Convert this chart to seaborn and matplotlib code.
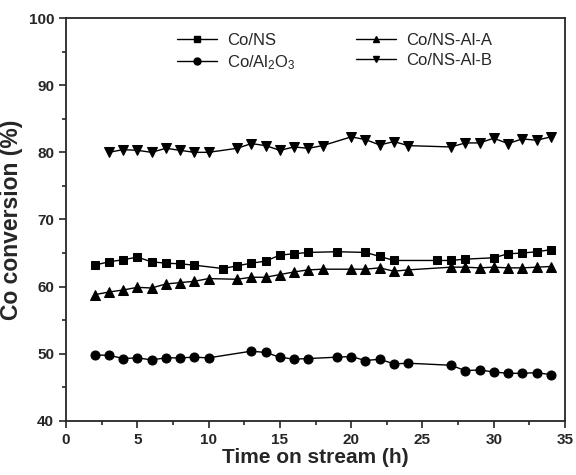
import numpy as np
import pandas as pd
import seaborn as sns
import matplotlib.pyplot as plt

# Co/NS
t_ns = [2, 3, 4, 5, 6, 7, 8, 9, 11, 12, 13, 14, 15, 16, 17, 19, 21, 22, 23, 26, 27, 28, 30, 31, 32, 33, 34]
conv_ns = [63.2, 63.7, 64.0, 64.4, 63.7, 63.5, 63.4, 63.2, 62.7, 63.1, 63.5, 63.8, 64.7, 64.9, 65.1, 65.2, 65.1,
           64.5, 63.9, 63.9, 63.9, 64.1, 64.3, 64.9, 65.0, 65.2, 65.5]

# Co/Al2O3
t_al = [2, 3, 4, 5, 6, 7, 8, 9, 10, 13, 14, 15, 16, 17, 19, 20, 21, 22, 23, 24, 27, 28, 29, 30, 31, 32, 33, 34]
conv_al = [49.8, 49.8, 49.3, 49.4, 49.1, 49.4, 49.4, 49.5, 49.4, 50.4, 50.2, 49.5, 49.2, 49.3, 49.5, 49.6, 49.0,
           49.2, 48.5, 48.6, 48.3, 47.5, 47.6, 47.3, 47.1, 47.1, 47.2, 46.9]

# Co/NS-Al-A
t_a = [2, 3, 4, 5, 6, 7, 8, 9, 10, 12, 13, 14, 15, 16, 17, 18, 20, 21, 22, 23, 24, 27, 28, 29, 30, 31, 32, 33, 34]
conv_a = [58.8, 59.2, 59.5, 59.9, 59.8, 60.4, 60.6, 60.8, 61.2, 61.1, 61.4, 61.4, 61.8, 62.2, 62.5, 62.6, 62.6,
          62.6, 62.8, 62.3, 62.5, 62.9, 62.9, 62.8, 62.9, 62.8, 62.8, 62.9, 63.0]

# Co/NS-Al-B
t_b = [3, 4, 5, 6, 7, 8, 9, 10, 12, 13, 14, 15, 16, 17, 18, 20, 21, 22, 23, 24, 27, 28, 29, 30, 31, 32, 33, 34]
conv_b = [80.0, 80.4, 80.3, 80.0, 80.6, 80.3, 80.0, 80.0, 80.6, 81.3, 81.0, 80.3, 80.8, 80.6, 81.0, 82.3, 81.9,
          81.1, 81.6, 81.0, 80.8, 81.4, 81.4, 82.1, 81.3, 82.0, 81.8, 82.3]

# legend order (column-wise): Co/NS, Co/Al2O3 | Co/NS-Al-A, Co/NS-Al-B
labels = ["Co/NS", "Co/Al$_2$O$_3$", "Co/NS-Al-A", "Co/NS-Al-B"]

df = pd.concat([
    pd.DataFrame({"t": t_ns, "conv": conv_ns, "sample": labels[0]}),
    pd.DataFrame({"t": t_al, "conv": conv_al, "sample": labels[1]}),
    pd.DataFrame({"t": t_a, "conv": conv_a, "sample": labels[2]}),
    pd.DataFrame({"t": t_b, "conv": conv_b, "sample": labels[3]}),
])

sns.set_style("ticks")
plt.rcParams["font.family"] = ["Liberation Sans", "DejaVu Sans"]
plt.rcParams["mathtext.default"] = "regular"

fig = plt.figure(figsize=(5.76, 4.75), dpi=100)
ax = fig.add_axes([0.1146, 0.1137, 0.8664, 0.8484])

markers = {labels[0]: "s", labels[1]: "o", labels[2]: "^", labels[3]: "v"}
sizes = {labels[0]: 6, labels[1]: 6.5, labels[2]: 7, labels[3]: 7}
for l in labels:
    sub = df[df["sample"] == l]
    sns.lineplot(data=sub, x="t", y="conv", color="black", marker=markers[l], markersize=sizes[l],
                 markeredgecolor="black", linewidth=1, ax=ax)

handles = [plt.Line2D([], [], color="black", lw=1, marker=markers[l], markersize=5) for l in labels]
ax.legend(handles, labels, ncol=2, frameon=False, fontsize=12, loc="upper center",
          bbox_to_anchor=(0.538, 1.0), handlelength=2.4, handletextpad=0.6, columnspacing=3.6,
          labelspacing=0.3)

ax.set_xlim(0, 35)
ax.set_ylim(40, 100)
ax.set_xticks(np.arange(0, 36, 5))
ax.set_yticks(np.arange(40, 101, 10))
ax.set_xticks(np.arange(2.5, 35, 5), minor=True)
ax.set_yticks(np.arange(45, 100, 10), minor=True)
ax.tick_params(which="major", direction="out", length=5, width=1.2, labelsize=11)
ax.tick_params(which="minor", direction="out", length=3, width=1.2)
for lab in ax.get_xticklabels() + ax.get_yticklabels():
    lab.set_fontweight("bold")
for s in ax.spines.values():
    s.set_linewidth(1.3)
    s.set_visible(True)

ax.set_xlabel("Time on stream (h)", fontsize=15, fontweight="bold", labelpad=1)
ax.set_ylabel("Co conversion (%)", fontsize=16.5, fontweight="bold", labelpad=4)

fig.savefig("out.png", dpi=100)
